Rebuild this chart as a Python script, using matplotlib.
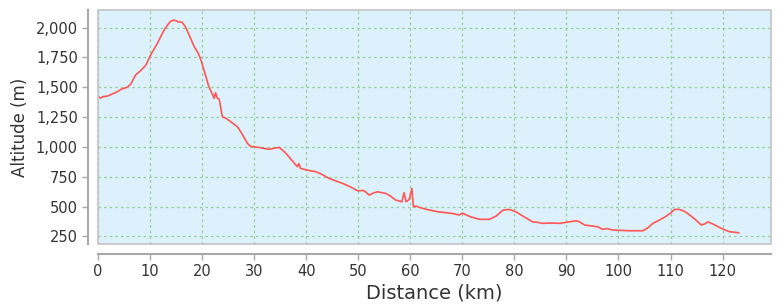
import matplotlib
matplotlib.use("Agg")
import matplotlib.pyplot as plt
from matplotlib.ticker import FuncFormatter
from matplotlib.patches import Rectangle

# altitude profile (km, m)
distance_km = [0.0, 0.5, 1.0, 1.8, 2.5, 3.7, 4.5, 5.6, 6.3, 7.2, 8.2, 9.2,
               10.1, 11.4, 12.7, 13.5, 14.0, 14.6, 15.4, 16.2, 16.8, 17.6,
               18.5, 19.2, 19.8, 20.6, 21.3, 22.0, 22.3, 22.6, 22.9, 23.3,
               23.9, 24.6, 25.5, 26.8, 27.8, 28.7, 29.3, 30.0, 31.0, 31.9,
               32.9, 34.0, 34.8, 35.4, 36.1, 37.2, 38.3, 38.6, 38.9, 40.2,
               40.8, 41.9, 43.0, 44.4, 45.7, 47.0, 48.5, 49.9, 51.0, 51.5,
               52.1, 53.0, 53.7, 55.3, 56.3, 57.2, 58.4, 58.8, 59.2, 59.8,
               60.3, 60.6, 61.1, 61.7, 63.7, 65.5, 66.9, 68.3, 69.4, 70.0,
               71.5, 73.3, 75.2, 76.5, 77.8, 79.0, 80.3, 82.0, 83.5, 84.4,
               85.4, 87.0, 88.7, 90.3, 91.9, 92.5, 93.5, 95.1, 96.0, 97.0,
               97.8, 98.9, 100.5, 102.1, 103.5, 104.7, 105.6, 106.6, 108.0,
               109.2, 110.0, 110.8, 111.7, 112.6, 113.7, 114.8, 115.9, 116.6,
               117.2, 118.3, 119.4, 120.4, 121.3, 122.2, 123.1]
altitude_m = [1420, 1410, 1422, 1426, 1440, 1462, 1485, 1500, 1527, 1602, 1640,
              1686, 1770, 1868, 1980, 2030, 2055, 2064, 2050, 2044, 2007, 1930,
              1840, 1790, 1728, 1610, 1504, 1440, 1407, 1454, 1410, 1399,
              1253, 1240, 1211, 1169, 1100, 1030, 1005, 1001, 995, 988,
              980, 990, 996, 975, 946, 890, 834, 860, 820, 806,
              800, 792, 770, 736, 715, 694, 665, 632, 635, 620,
              596, 615, 624, 610, 585, 554, 540, 616, 540, 560,
              652, 498, 504, 493, 470, 455, 448, 440, 429, 445,
              415, 393, 393, 420, 470, 476, 456, 410, 372, 368,
              359, 362, 359, 370, 381, 372, 345, 336, 330, 309,
              315, 303, 300, 297, 297, 297, 320, 359, 390,
              420, 445, 476, 476, 462, 429, 390, 345, 355,
              372, 350, 325, 305, 289, 285, 280]

x_ticks = list(range(0, 121, 10))
y_ticks = list(range(250, 2001, 250))

fig = plt.figure(figsize=(7.79, 3.04), dpi=100)
ax = fig.add_axes([0.1258, 0.197, 0.8639, 0.770])
ax.set_facecolor("#DCF1FB")

ax.plot(distance_km, altitude_m, color="#FF5555", linewidth=1.2, zorder=3)

ax.set_xlim(0, 129.3)
ax.set_ylim(185, 2148)
ax.set_xticks(x_ticks)
ax.set_yticks(y_ticks)
ax.yaxis.set_major_formatter(FuncFormatter(lambda v, p: "{:,.0f}".format(v)))

ax.grid(True, color="#92CE98", linestyle=(0, (2, 2.5)), linewidth=0.9)
ax.set_axisbelow(True)

for side in ["top", "right"]:
    ax.spines[side].set_visible(False)
for side in ["left", "bottom"]:
    ax.spines[side].set_position(("outward", 7))
    ax.spines[side].set_color("#A8A8A8")
    ax.spines[side].set_linewidth(1.5)

# grey frame around the plot area
frame = Rectangle((0, 0), 1, 1, transform=ax.transAxes, fill=False,
                  edgecolor="#C4C4C4", linewidth=1.2, zorder=4, clip_on=False)
ax.add_patch(frame)

ax.tick_params(axis="both", colors="#A8A8A8", length=4, width=1,
               labelcolor="#333333", labelsize=10.5)
ax.set_xlabel("Distance (km)", fontsize=14, color="#333333", labelpad=3)
ax.set_ylabel("Altitude (m)", fontsize=12, color="#333333", labelpad=5)

fig.savefig("out.png", dpi=100)
